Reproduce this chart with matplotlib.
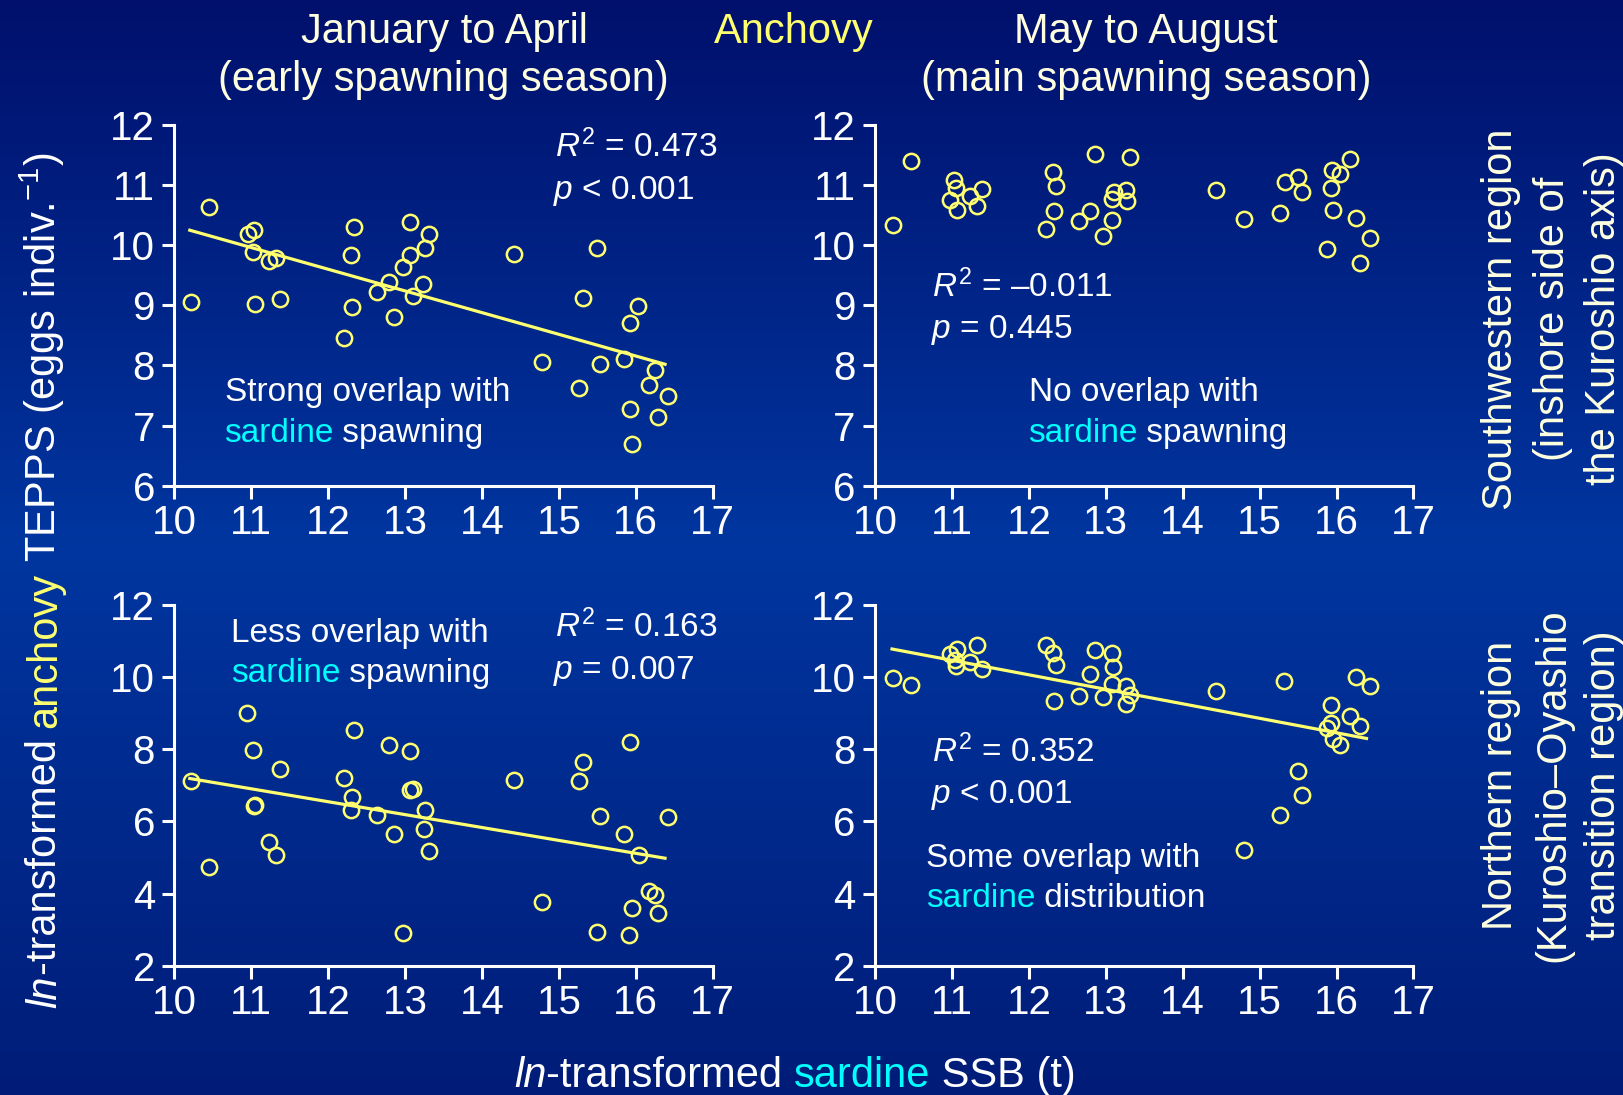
import matplotlib.pyplot as plt
import numpy as np
from matplotlib.colors import LinearSegmentedColormap

plt.rcParams['font.family'] = ['Liberation Sans', 'DejaVu Sans']
plt.rcParams['mathtext.fontset'] = 'custom'
plt.rcParams['mathtext.rm'] = 'Liberation Sans'
plt.rcParams['mathtext.it'] = 'Liberation Sans:italic'

# ---- data ----
# January to April, southwestern region
x_jan_sw = [10.22, 10.45, 10.96, 11.03, 11.02, 11.05, 11.23, 11.32, 11.37, 12.20,
            12.30, 12.34, 12.31, 12.64, 12.79, 12.86, 12.97, 13.07, 13.07, 13.10,
            13.23, 13.26, 13.31, 14.41, 14.78, 15.26, 15.31, 15.49, 15.54, 15.85,
            15.92, 15.92, 15.95, 16.03, 16.17, 16.25, 16.29, 16.42]
y_jan_sw = [9.05, 10.64, 10.18, 10.25, 9.88, 9.03, 9.74, 9.78, 9.10, 8.46,
            9.83, 10.31, 8.97, 9.23, 9.39, 8.81, 9.63, 10.39, 9.84, 9.16,
            9.35, 9.95, 10.18, 9.85, 8.06, 7.62, 9.13, 9.95, 8.02, 8.10,
            8.71, 7.27, 6.70, 8.99, 7.67, 7.92, 7.15, 7.50]
fit_jan_sw_x = [10.20, 16.38]
fit_jan_sw_y = [10.25, 8.02]

# May to August, southwestern region
x_may_sw = [10.23, 10.47, 10.97, 11.03, 11.05, 11.07, 11.24, 11.33, 11.39, 12.22,
            12.31, 12.35, 12.32, 12.65, 12.80, 12.86, 12.97, 13.08, 13.11, 13.08,
            13.26, 13.27, 13.32, 14.43, 14.80, 15.27, 15.33, 15.50, 15.55, 15.87,
            15.93, 15.94, 15.96, 16.05, 16.18, 16.26, 16.30, 16.43]
y_may_sw = [10.33, 11.40, 10.76, 11.08, 10.95, 10.59, 10.82, 10.65, 10.94, 10.27,
            11.21, 10.98, 10.57, 10.40, 10.57, 11.51, 10.16, 10.77, 10.89, 10.42,
            10.92, 10.73, 11.46, 10.92, 10.44, 10.53, 11.05, 11.13, 10.89, 9.94,
            10.96, 11.25, 10.59, 11.19, 11.43, 10.45, 9.70, 10.12]

# January to April, northern region
x_jan_n = [10.22, 10.45, 10.95, 11.02, 11.03, 11.05, 11.23, 11.32, 11.37, 12.20,
           12.31, 12.30, 12.34, 12.64, 12.79, 12.86, 12.97, 13.07, 13.07, 13.10,
           13.26, 13.24, 13.31, 14.41, 14.78, 15.26, 15.31, 15.49, 15.54, 15.85,
           15.92, 15.95, 15.91, 16.04, 16.17, 16.25, 16.29, 16.42]
y_jan_n = [7.12, 4.74, 9.00, 7.97, 6.43, 6.45, 5.44, 5.07, 7.44, 7.21,
           6.69, 6.32, 8.53, 6.17, 8.13, 5.65, 2.90, 7.95, 6.87, 6.89,
           6.32, 5.78, 5.18, 7.16, 3.76, 7.12, 7.64, 2.94, 6.15, 5.64,
           8.20, 3.59, 2.85, 5.06, 4.08, 3.96, 3.45, 6.13]
fit_jan_n_x = [10.20, 16.38]
fit_jan_n_y = [7.19, 4.98]

# May to August, northern region
x_may_n = [10.23, 10.47, 10.97, 11.07, 11.04, 11.05, 11.24, 11.33, 11.39, 12.22,
           12.31, 12.35, 12.32, 12.65, 12.80, 12.86, 12.97, 13.08, 13.10, 13.08,
           13.26, 13.32, 13.26, 14.43, 14.80, 15.27, 15.32, 15.50, 15.55, 15.87,
           15.93, 15.93, 15.95, 16.05, 16.18, 16.26, 16.30, 16.43]
y_may_n = [9.98, 9.78, 10.64, 10.77, 10.48, 10.31, 10.43, 10.88, 10.23, 10.88,
           10.66, 10.34, 9.34, 9.48, 10.08, 10.75, 9.44, 10.68, 10.29, 9.81,
           9.75, 9.50, 9.26, 9.62, 5.21, 6.19, 9.90, 7.40, 6.73, 8.60,
           9.22, 8.74, 8.29, 8.11, 8.92, 10.01, 8.65, 9.75]
fit_may_n_x = [10.22, 16.39]
fit_may_n_y = [10.78, 8.30]

x_ticks = [10, 11, 12, 13, 14, 15, 16, 17]
y_ticks_top = [6, 7, 8, 9, 10, 11, 12]
y_ticks_bottom = [2, 4, 6, 8, 10, 12]

YELLOW = '#FFFF70'
CYAN = '#00FFFF'
CREAM = '#FFFFE0'
WHITE = 'white'

W, H = 1623, 1095
fig = plt.figure(figsize=(W / 100, H / 100), dpi=100)

# gradient background
bg = fig.add_axes([0, 0, 1, 1], zorder=-10)
cmap = LinearSegmentedColormap.from_list('bg', [(0, '#00106C'), (0.5, '#0036A0'), (1, '#001C78')])
bg.imshow(np.linspace(0, 1, 256)[:, None], cmap=cmap, aspect='auto',
          extent=[0, 1, 0, 1], origin='upper')
bg.axis('off')


def make_axes(left, right, top, bottom):
    # pixel box -> figure fraction
    return fig.add_axes([left / W, 1 - bottom / H, (right - left) / W, (bottom - top) / H])


def style_axes(ax, yticks):
    ax.set_facecolor('none')
    ax.set_xlim(10, 17)
    ax.set_ylim(yticks[0], yticks[-1])
    ax.set_xticks(x_ticks)
    ax.set_yticks(yticks)
    for side in ['top', 'right']:
        ax.spines[side].set_visible(False)
    for side in ['left', 'bottom']:
        ax.spines[side].set_color(WHITE)
        ax.spines[side].set_linewidth(2.2)
    ax.tick_params(colors=WHITE, labelsize=29, length=9, width=2.2, direction='out')
    ax.tick_params(axis='x', pad=4)
    ax.tick_params(axis='y', pad=5)


def scatter(ax, xs, ys):
    ax.plot(xs, ys, 'o', mfc='none', mec=YELLOW, ms=11, mew=1.8, clip_on=False)


ax1 = make_axes(174.4, 712.7, 125, 485.7)
ax2 = make_axes(875.1, 1413.4, 125, 485.7)
ax3 = make_axes(174.4, 712.7, 605, 965.7)
ax4 = make_axes(875.1, 1413.4, 605, 965.7)

style_axes(ax1, y_ticks_top)
style_axes(ax2, y_ticks_top)
style_axes(ax3, y_ticks_bottom)
style_axes(ax4, y_ticks_bottom)

scatter(ax1, x_jan_sw, y_jan_sw)
ax1.plot(fit_jan_sw_x, fit_jan_sw_y, color=YELLOW, lw=2.3)
scatter(ax2, x_may_sw, y_may_sw)
scatter(ax3, x_jan_n, y_jan_n)
ax3.plot(fit_jan_n_x, fit_jan_n_y, color=YELLOW, lw=2.3)
scatter(ax4, x_may_n, y_may_n)
ax4.plot(fit_may_n_x, fit_may_n_y, color=YELLOW, lw=2.3)

renderer = fig.canvas.get_renderer()


def put_text(parts, x, y, size, rotation=0, align='left'):
    """parts: (string, colour, style); x, y = start of baseline in pixels (y from top)"""
    arts = []
    for s, c, st in parts:
        arts.append(fig.text(0, 0, s, color=c, fontsize=size, fontstyle=st,
                             rotation=rotation, rotation_mode='anchor',
                             ha='left', va='baseline'))
    lens = []
    for a in arts:
        bb = a.get_window_extent(renderer)
        lens.append(bb.height if rotation else bb.width)
    start = 0 if align == 'left' else -sum(lens) / 2
    for a, L in zip(arts, lens):
        if rotation:
            a.set_position((x / W, 1 - y / H + start / H))
        else:
            a.set_position(((x + start) / W, 1 - y / H))
        start += L


def one(s, x, y, size, color=WHITE):
    put_text([(s, color, 'normal')], x, y, size)


# headers
fig.text(444 / W, 1 - 43.5 / H, 'January to April', color=CREAM, fontsize=30, ha='center', va='baseline')
fig.text(443 / W, 1 - 91.5 / H, '(early spawning season)', color=CREAM, fontsize=30, ha='center', va='baseline')
fig.text(794 / W, 1 - 43.5 / H, 'Anchovy', color=YELLOW, fontsize=30, ha='center', va='baseline')
fig.text(1146 / W, 1 - 43.5 / H, 'May to August', color=CREAM, fontsize=30, ha='center', va='baseline')
fig.text(1146 / W, 1 - 91.5 / H, '(main spawning season)', color=CREAM, fontsize=30, ha='center', va='baseline')

# region labels on the right
for s, bx in zip(['Southwestern region', '(inshore side of', 'the Kuroshio axis)'], [1512, 1564, 1615]):
    fig.text(bx / W, 1 - 319 / H, s, color=CREAM, fontsize=30, rotation=90,
             rotation_mode='anchor', ha='center', va='baseline')
for s, bx in zip(['Northern region', '(Kuroshio\u2013Oyashio', 'transition region)'], [1512, 1564, 1615]):
    fig.text(bx / W, 1 - 785 / H, s, color=CREAM, fontsize=30, rotation=90,
             rotation_mode='anchor', ha='center', va='baseline')

# axis labels
put_text([('ln', WHITE, 'italic'), ('-transformed ', WHITE, 'normal'),
          ('anchovy', YELLOW, 'normal'), (' TEPPS (eggs indiv.$^{-1}$)', WHITE, 'normal')],
         56, 580, 30, rotation=90, align='center')
put_text([('ln', WHITE, 'italic'), ('-transformed ', WHITE, 'normal'),
          ('sardine', CYAN, 'normal'), (' SSB (t)', WHITE, 'normal')],
         795, 1087, 30, align='center')

# panel annotations
one('$R^2$ = 0.473', 554.6, 157.3, 24)
one('$p$ < 0.001', 552.8, 199, 24)
one('Strong overlap with', 224.5, 400.7, 24)
put_text([('sardine', CYAN, 'normal'), (' spawning', WHITE, 'normal')], 223.8, 441.7, 24)

one('$R^2$ = \u20130.011', 931.7, 297.3, 24)
one('$p$ = 0.445', 930.6, 338.3, 24)
one('No overlap with', 1028.7, 401, 24)
put_text([('sardine', CYAN, 'normal'), (' spawning', WHITE, 'normal')], 1028, 441.7, 24)

one('Less overlap with', 230.7, 641.7, 24)
put_text([('sardine', CYAN, 'normal'), (' spawning', WHITE, 'normal')], 230.7, 681.7, 24)
one('$R^2$ = 0.163', 554.6, 637.3, 24)
one('$p$ = 0.007', 552.8, 679, 24)

one('$R^2$ = 0.352', 931.7, 762.3, 24)
one('$p$ < 0.001', 930.6, 802.7, 24)
one('Some overlap with', 925.8, 867.3, 24)
put_text([('sardine', CYAN, 'normal'), (' distribution', WHITE, 'normal')], 925.8, 907.3, 24)

fig.savefig('out.png', dpi=100)
